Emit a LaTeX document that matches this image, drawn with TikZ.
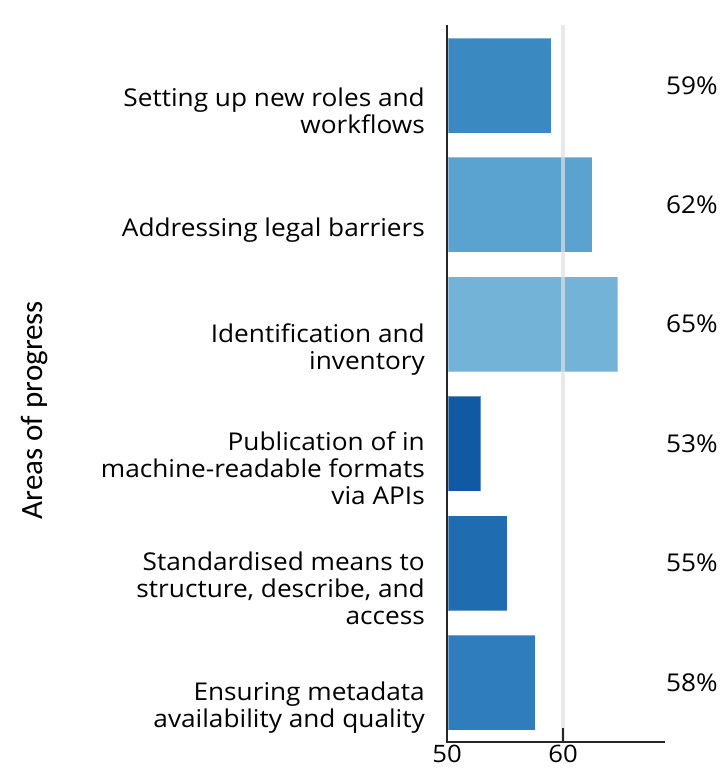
\documentclass[tikz,border=0pt]{standalone}
\usepackage{fontspec}
\setmainfont{Open Sans}[FakeStretch=1.07]
\newfontfamily\axisfont{Carlito}
\definecolor{barA}{RGB}{59,137,193}
\definecolor{barB}{RGB}{90,163,208}
\definecolor{barC}{RGB}{116,179,216}
\definecolor{barD}{RGB}{18,89,163}
\definecolor{barE}{RGB}{31,108,176}
\definecolor{barF}{RGB}{47,125,188}

\begin{document}
\begin{tikzpicture}[x=1pt, y=-1pt,
  bar/.style={draw=white, draw opacity=0.35, line width=0.8pt},
  area/.style={align=right, anchor=east, inner sep=0pt, font=\fontsize{24.5}{27}\selectfont},
  pct/.style={anchor=base west, inner sep=0pt, font=\fontsize{24.5}{27}\selectfont},
  ticklab/.style={anchor=base, inner sep=0pt, font=\fontsize{24}{26}\selectfont}]
  \useasboundingbox (0,0) rectangle (725,768);
  % bars, category labels and values
  \foreach \i/\val/\pc/\col/\txt in {
      0/59.0/59/barA/{Setting up new roles and\\workflows},
      1/62.5/62/barB/{Addressing legal barriers},
      2/64.7/65/barC/{Identification and\\inventory},
      3/52.9/53/barD/{Publication of in\\machine-readable formats\\via APIs},
      4/55.2/55/barE/{Standardised means to\\structure, describe, and\\access},
      5/57.6/58/barF/{Ensuring metadata\\availability and quality}} {
    \pgfmathsetmacro{\ytop}{38+\i*119.4}
    \filldraw[bar, fill=\col] (448,\ytop) rectangle ({447+(\val-50)*11.6},\ytop+95);
    \node[area] (lab\i) at (425,\ytop+72.5) {\txt};
    \node[pct] (pct\i) at (666,\ytop+56) {\pc\%};
  }
  % grid line at 60
  \draw[gray!25, line width=4pt, opacity=0.7] (563,25) -- (563,742);
  % axes
  \draw[black!85, line width=1.6pt] (447,25) -- (447,742) -- (665,742);
  \draw[black!85, line width=1.6pt] (563,728) -- (563,742);
  \node[ticklab] (t50) at (447,762) {50};
  \node[ticklab] (t60) at (563,762) {60};
  \node[rotate=90, font=\axisfont\fontsize{31}{34}\selectfont] (ylab) at (35,410) {Areas of progress};
\end{tikzpicture}
\end{document}
